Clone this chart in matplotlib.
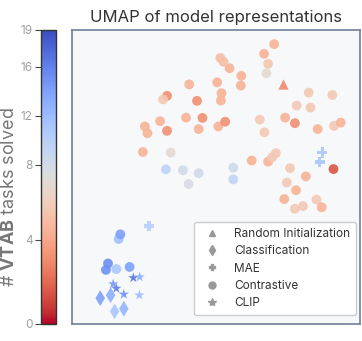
import matplotlib
matplotlib.use("Agg")
import matplotlib.pyplot as plt
from matplotlib.colors import TwoSlopeNorm
from matplotlib.lines import Line2D
import matplotlib.cm as cm

plt.rcParams['font.family'] = ['Inter', 'DejaVu Sans']
plt.rcParams['mathtext.fontset'] = 'custom'
plt.rcParams['mathtext.rm'] = 'Inter'
plt.rcParams['mathtext.bf'] = 'Inter:bold'

# UMAP coordinates and number of VTAB tasks solved, per pretraining type
contrastive_x = [5.15, 5.26, 5.47, 5.88, 5.86, 4.07, 5.04, 5.19, 5.17, 3.30, 3.16, 4.34,
                 3.06, 3.96, 4.53, 2.53, 2.62, 3.30, 4.40, 5.08, 5.32, 7.02, 6.67, 6.81,
                 6.75, 8.22, 9.04, 7.80, 8.28, 6.52, 7.40, 7.74, 6.68, 8.53, 9.10, 9.33,
                 2.46, 3.43, 3.26, 3.85, 4.40, 4.05, 5.60, 5.60, 6.24, 6.81, 6.95, 7.08,
                 9.08, 7.57, 8.12, 7.46, 7.78, 7.37, 8.49, 8.67, 7.74, 8.02,
                 1.62, 1.68, 1.25, 1.18, 1.54, 2.00]
contrastive_y = [9.05, 8.92, 8.70, 8.44, 8.11, 8.15, 8.22, 7.85, 7.60, 7.76, 7.64, 7.59,
                 6.90, 7.02, 7.01, 6.72, 6.49, 6.57, 6.63, 6.72, 6.88, 9.52, 9.19, 8.85,
                 8.53, 7.87, 7.79, 7.43, 7.36, 6.95, 7.02, 6.83, 6.52, 6.63, 6.74, 6.85,
                 5.85, 5.83, 5.26, 5.23, 5.13, 4.76, 5.32, 4.92, 5.56, 5.52, 5.67, 5.81,
                 5.27, 5.30, 5.02, 4.81, 4.55, 4.25, 4.23, 3.97, 3.92, 4.01,
                 2.89, 3.05, 2.06, 1.84, 1.87, 1.94]
contrastive_c = [5.0, 5.0, 4.5, 4.5, 4.5, 4.5, 4.5, 4.5, 4.5, 3.2, 5.5, 3.2,
                 4.5, 4.5, 3.2, 4.5, 4.5, 3.2, 4.5, 4.5, 3.2, 4.5, 4.5, 5.3,
                 6.6, 5.5, 5.5, 5.5, 5.5, 5.5, 4.5, 3.2, 5.5, 4.5, 5.5, 4.5,
                 4.5, 6.6, 9.5, 8.3, 8.3, 7.5, 8.3, 9.3, 4.5, 4.5, 5.5, 5.5,
                 1.5, 5.5, 4.5, 5.5, 4.5, 4.5, 5.5, 4.5, 5.5, 5.5,
                 11.5, 14.0, 15.0, 15.0, 11.0, 14.0]

mae_x = [8.69, 8.60, 2.68]
mae_y = [5.83, 5.51, 3.34]
mae_c = [11.0, 11.0, 10.0]

random_x = [7.32]
random_y = [8.16]
random_c = [3.0]

clip_x = [2.13, 2.35, 1.43, 1.54, 1.80, 2.34]
clip_y = [1.57, 1.60, 1.36, 1.21, 1.01, 0.98]
clip_c = [16.5, 13.0, 14.5, 16.0, 15.0, 12.0]

cls_x = [0.98, 1.34, 1.48, 1.80]
cls_y = [0.88, 0.98, 0.43, 0.52]
cls_c = [14.0, 13.0, 11.0, 12.5]

cbar_ticks = [0, 4, 8, 12, 16, 19]

cmap = plt.get_cmap('coolwarm_r')
norm = TwoSlopeNorm(vmin=0, vcenter=7, vmax=19)

fig = plt.figure(figsize=(3.62, 3.41), dpi=100)
ax = fig.add_axes([72/362, 17/341, 288/362, 294/341])
cax = fig.add_axes([41/362, 17/341, 15/362, 294/341])

ax.set_facecolor('#f7f8fa')
for sp in ax.spines.values():
    sp.set_color('#6f7f98')
    sp.set_linewidth(1.2)
ax.set_xticks([])
ax.set_yticks([])
ax.set_xlim(0, 10)
ax.set_ylim(0, 10)

kw = dict(cmap=cmap, norm=norm, linewidths=0, alpha=0.9)
ax.scatter(contrastive_x, contrastive_y, c=contrastive_c, marker='o', s=50, **kw)
ax.scatter(mae_x, mae_y, c=mae_c, marker='P', s=55, **kw)
ax.scatter(random_x, random_y, c=random_c, marker='^', s=55, **kw)
ax.scatter(clip_x, clip_y, c=clip_c, marker='*', s=60, **kw)
ax.scatter(cls_x, cls_y, c=cls_c, marker='d', s=65, **kw)

ax.set_title('UMAP of model representations', fontsize=12, color='#333333', pad=6)

g = '#999999'
handles = [
    Line2D([], [], ls='', marker='^', color=g, markersize=5, label='Random Initialization'),
    Line2D([], [], ls='', marker='d', color=g, markersize=5, label='Classification'),
    Line2D([], [], ls='', marker='P', color=g, markersize=5, label='MAE'),
    Line2D([], [], ls='', marker='o', color=g, markersize=5, label='Contrastive'),
    Line2D([], [], ls='', marker='*', color=g, markersize=6, label='CLIP'),
]
leg = ax.legend(handles=handles, loc='lower right', fontsize=8.5, frameon=True,
                labelspacing=0.45, handletextpad=0.9, borderpad=0.5,
                bbox_to_anchor=(1.008, 0.01))
leg.get_frame().set_edgecolor('#cccccc')
leg.get_frame().set_facecolor('white')
leg.get_frame().set_alpha(1)
for t in leg.get_texts():
    t.set_color('#333333')

sm = cm.ScalarMappable(norm=norm, cmap=cmap)
cb = fig.colorbar(sm, cax=cax, ticks=cbar_ticks)
cb.outline.set_edgecolor('#333333')
cb.outline.set_linewidth(1.0)
cax.yaxis.set_ticks_position('left')
cax.yaxis.set_label_position('left')
cax.tick_params(axis='y', colors='#444444', labelcolor='#a0a0a0', labelsize=8.5,
                length=4, width=0.8, pad=2)
cax.minorticks_off()
cb.set_label('# $\\mathbf{VTAB}$ tasks solved', fontsize=13, color='#777777')
cax.yaxis.set_label_coords(-1.5, 0.43)

fig.savefig('out.png', dpi=100)
